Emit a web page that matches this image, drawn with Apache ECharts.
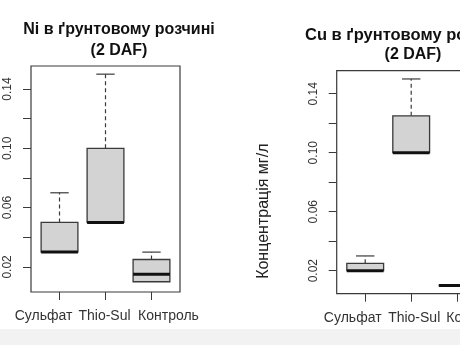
<!DOCTYPE html>
<html>
<head>
<meta charset="utf-8">
<script src="https://cdn.jsdelivr.net/npm/echarts@6/dist/echarts.min.js"></script>
<style>
html,body{margin:0;padding:0;background:#fff;}
#chart{width:460px;height:345px;}
</style>
</head>
<body>
<div id="chart"></div>
<script>
// ---- data ----
const categories = ['Сульфат', 'Thio-Sul', 'Контроль'];
// [min, Q1, median, Q3, max]
const niSulfat  = [0.03, 0.03, 0.03, 0.05, 0.07];
const niThio    = [0.05, 0.05, 0.05, 0.10, 0.15];
const niControl = [0.01, 0.01, 0.015, 0.025, 0.03];
const cuSulfat  = [0.02, 0.02, 0.02, 0.025, 0.03];
const cuThio    = [0.10, 0.10, 0.10, 0.125, 0.15];
const cuControl = [0.01, 0.01, 0.01, 0.01, 0.01];
const yTicks  = [0.02, 0.04, 0.06, 0.08, 0.10, 0.12, 0.14];
const yLabels = [0.02, 0.06, 0.10, 0.14];
const xTicks  = [1, 2, 3];
const titleNi = ['Ni в ґрунтовому розчині', '(2 DAF)'];
const titleCu = ['Cu в ґрунтовому розчині', '(2 DAF)'];
const yName = 'Концентрація мг/л';

const FONT = '"Liberation Sans", Arial, sans-serif';
const lineCol = '#3a3a3a';

function rows(groups) {
  return groups.map((g, i) => [i + 1].concat(g));
}

function renderBox(params, api) {
  const x = api.value(0);
  const mn = api.value(1), q1 = api.value(2), md = api.value(3), q3 = api.value(4), mx = api.value(5);
  const unit = api.size([1, 0])[0];
  const bw = unit * 0.8;
  const cw = bw * 0.5;
  const c = (v) => api.coord([x, v]);
  const cx = c(q1)[0];
  const yMin = c(mn)[1], yQ1 = c(q1)[1], yMd = c(md)[1], yQ3 = c(q3)[1], yMax = c(mx)[1];
  const children = [];
  const dashed = { stroke: lineCol, lineWidth: 1.2, lineDash: [4, 3] };
  const solid = { stroke: lineCol, lineWidth: 1.2 };
  if (mx > q3) {
    children.push({ type: 'line', shape: { x1: cx, y1: yQ3, x2: cx, y2: yMax }, style: dashed });
    children.push({ type: 'line', shape: { x1: cx - cw / 2, y1: yMax, x2: cx + cw / 2, y2: yMax }, style: solid });
  }
  if (mn < q1) {
    children.push({ type: 'line', shape: { x1: cx, y1: yQ1, x2: cx, y2: yMin }, style: dashed });
    children.push({ type: 'line', shape: { x1: cx - cw / 2, y1: yMin, x2: cx + cw / 2, y2: yMin }, style: solid });
  }
  children.push({ type: 'rect', shape: { x: cx - bw / 2, y: yQ3, width: bw, height: yQ1 - yQ3 },
    style: { fill: '#d3d3d3', stroke: lineCol, lineWidth: 1.3 } });
  children.push({ type: 'line', shape: { x1: cx - bw / 2, y1: yMd, x2: cx + bw / 2, y2: yMd },
    style: { stroke: '#111', lineWidth: 3 } });
  return { type: 'group', children };
}

function yAxisOpt(idx, min, max, withName) {
  return {
    type: 'value', gridIndex: idx, min: min, max: max,
    splitLine: { show: false },
    axisLine: { show: false },
    axisTick: { show: true, length: 8, customValues: yTicks, lineStyle: { color: lineCol } },
    axisLabel: { show: true, customValues: yLabels, rotate: 90, margin: 17,
      formatter: (v) => v.toFixed(2), fontFamily: FONT, fontSize: 12, color: '#333' },
    name: withName ? yName : '',
    nameLocation: 'middle', nameGap: 65, nameRotate: 90,
    nameTextStyle: { fontFamily: FONT, fontSize: 16, color: '#222', padding: [0, 58, 0, 0] }
  };
}

function xAxisOpt(idx, richSet) {
  return {
    type: 'value', gridIndex: idx, min: 0.38, max: 3.62,
    splitLine: { show: false },
    axisLine: { show: false },
    axisTick: { show: true, length: 8, customValues: xTicks, lineStyle: { color: lineCol } },
    axisLabel: { show: true, customValues: xTicks, margin: 17, hideOverlap: false,
      formatter: (v) => '{' + 'c' + Math.round(v) + '|' + categories[Math.round(v) - 1] + '}',
      rich: richSet }
  };
}

const base = { fontFamily: FONT, fontSize: 14, color: '#333' };
const richL = {
  c1: Object.assign({ padding: [0, 32, 0, 0] }, base),
  c2: Object.assign({ padding: [0, 2, 0, 0] }, base),
  c3: Object.assign({ padding: [0, 0, 0, 34] }, base)
};
const richR = {
  c1: Object.assign({ padding: [0, 25, 0, 0] }, base),
  c2: Object.assign({ padding: [0, 0, 0, 6] }, base),
  c3: Object.assign({ padding: [0, 0, 0, 39] }, base)
};

const titleFont = 'bold 16px ' + FONT;

const chart = echarts.init(document.getElementById('chart'), null, { renderer: 'canvas' });
chart.setOption({
  backgroundColor: '#ffffff',
  animation: false,
  graphic: [
    { type: 'rect', z: -10, silent: true, shape: { x: 0, y: 329, width: 460, height: 16 }, style: { fill: '#f2f2f2' } },
    { type: 'text', x: 119, y: 30, style: { text: titleNi[0], font: titleFont, fill: '#111', align: 'center', verticalAlign: 'middle' } },
    { type: 'text', x: 119, y: 50.5, style: { text: titleNi[1], font: titleFont, fill: '#111', align: 'center', verticalAlign: 'middle' } },
    { type: 'text', x: 305, y: 35, style: { text: titleCu[0], font: 'bold 16.5px ' + FONT, fill: '#111', align: 'left', verticalAlign: 'middle' } },
    { type: 'text', x: 413, y: 55, style: { text: titleCu[1], font: titleFont, fill: '#111', align: 'center', verticalAlign: 'middle' } }
  ],
  grid: [
    { left: 31, top: 66, width: 149, height: 226, show: true, borderColor: lineCol, borderWidth: 1.2,
      backgroundColor: 'transparent', outerBoundsMode: 'none', containLabel: false },
    { left: 336.7, top: 70.7, width: 149, height: 223, show: true, borderColor: lineCol, borderWidth: 1.2,
      backgroundColor: 'transparent', outerBoundsMode: 'none', containLabel: false }
  ],
  xAxis: [xAxisOpt(0, richL), xAxisOpt(1, richR)],
  yAxis: [yAxisOpt(0, 0.0031, 0.1555, false), yAxisOpt(1, 0.0044, 0.1556, true)],
  series: [
    { type: 'custom', xAxisIndex: 0, yAxisIndex: 0, renderItem: renderBox,
      encode: { x: 0, y: [1, 2, 3, 4, 5] }, data: rows([niSulfat, niThio, niControl]) },
    { type: 'custom', xAxisIndex: 1, yAxisIndex: 1, renderItem: renderBox,
      encode: { x: 0, y: [1, 2, 3, 4, 5] }, data: rows([cuSulfat, cuThio, cuControl]) }
  ]
});
</script>
</body>
</html>
